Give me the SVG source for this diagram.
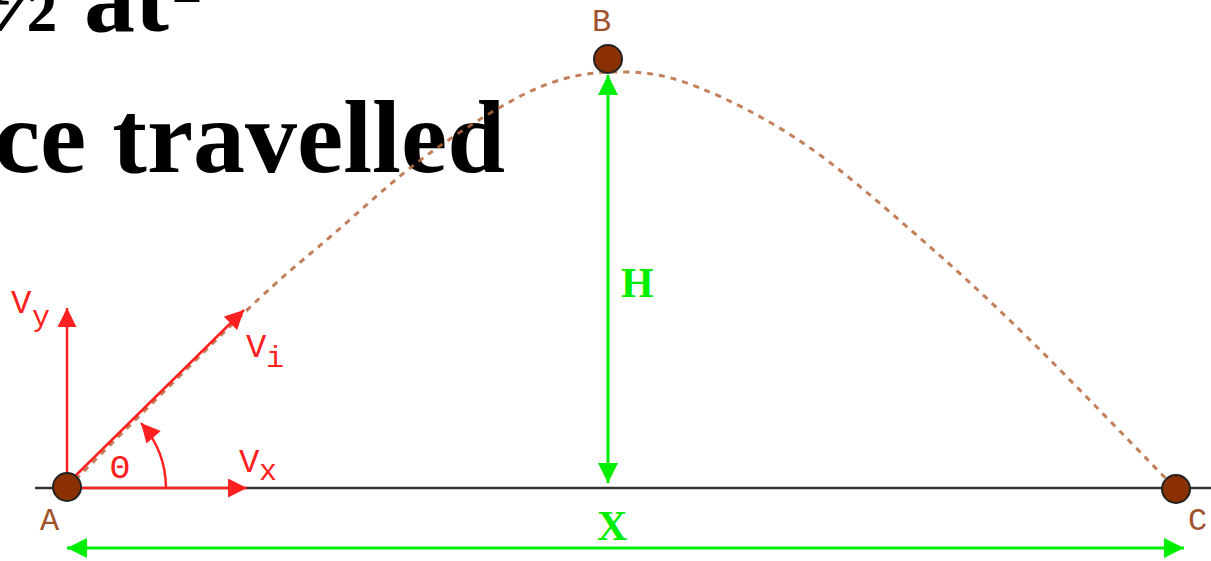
<svg xmlns="http://www.w3.org/2000/svg" width="1211" height="561" viewBox="0 0 1211 561">
<style>
.title{font-family:"Liberation Serif","Times New Roman",serif;font-weight:bold;fill:#000}
.pt{font-family:"Courier New","Liberation Mono",monospace;fill:#a0522d;font-size:32px}
.red{font-family:"Courier New","Liberation Mono",monospace;fill:#ff2020}
.grn{font-family:"Liberation Serif","Times New Roman",serif;fill:#00ee00;font-weight:bold}
.rline{stroke:#ff2020;stroke-width:2.5;fill:none}
.gline{stroke:#00ee00;stroke-width:3;fill:none}
.node{fill:#8b3000;stroke:#222;stroke-width:2}
</style>
<defs>
<marker id="ra" viewBox="0 0 20 20" refX="20" refY="10" markerWidth="20" markerHeight="19" markerUnits="userSpaceOnUse" orient="auto-start-reverse"><path d="M0,0 L20,10 L0,20 z" fill="#ff2020"/></marker>
<marker id="ga" viewBox="0 0 20 20" refX="20" refY="10" markerWidth="21" markerHeight="20" markerUnits="userSpaceOnUse" orient="auto-start-reverse"><path d="M0,0 L20,10 L0,20 z" fill="#00ee00"/></marker>
</defs>
<rect width="1211" height="561" fill="#fff"/>
<g id="title">
<text class="title" x="-18" y="31" font-size="102">½ at<tspan x="172" y="2" font-size="60">2</tspan></text>
<text class="title" x="505" y="172" font-size="104" text-anchor="end">ce travelled</text>
</g>
<g id="connectors">
<line id="ground" x1="35" y1="488" x2="1211" y2="488" stroke="#333" stroke-width="2.5"/>
<path id="trajectory" d="M67,488 C96.7,458.7 201.2,353.8 245,312 C288.8,270.2 299.2,263.5 330,237 C360.8,210.5 395,178 430,153 C465,128 507.5,100.5 540,87 C572.5,73.5 598.3,71.8 625,72 C651.7,72.2 670.3,76.2 700,88 C729.7,99.8 767.5,119 803,143 C838.5,167 875.7,199.7 913,232 C950.3,264.3 983.2,294.2 1027,337 C1070.8,379.8 1151.2,463.7 1176,489" fill="none" stroke="#b8683c" stroke-width="3" stroke-dasharray="6 6" opacity="0.85"/>
<line id="vy" class="rline" x1="67" y1="487" x2="67" y2="308" marker-end="url(#ra)"/>
<line id="vx" class="rline" x1="67" y1="488" x2="247" y2="488" marker-end="url(#ra)"/>
<line id="vi" class="rline" x1="65" y1="486" x2="244" y2="310" marker-end="url(#ra)"/>
<path id="theta-arc" class="rline" d="M166,488 A99,99 0 0 0 141,423" marker-end="url(#ra)"/>
<line id="h" class="gline" x1="608" y1="75" x2="608" y2="483" marker-start="url(#ga)" marker-end="url(#ga)"/>
<line id="x" class="gline" x1="67" y1="548" x2="1184" y2="548" marker-start="url(#ga)" marker-end="url(#ga)"/>
</g>
<g id="A"><circle class="node" cx="67" cy="487" r="14"/><text class="pt" x="40" y="530">A</text></g>
<g id="B"><circle class="node" cx="608" cy="59" r="14"/><text class="pt" x="592" y="31">B</text></g>
<g id="C"><circle class="node" cx="1176" cy="489" r="14"/><text class="pt" x="1188" y="530">C</text></g>
<g id="labels">
<text class="red" x="11" y="313" font-size="34">V<tspan x="32" y="326" font-size="30">y</tspan></text>
<text class="red" x="246" y="357" font-size="34">V<tspan x="266" y="367" font-size="30">i</tspan></text>
<text class="red" x="239" y="472" font-size="34">V<tspan x="259" y="480" font-size="30">x</tspan></text>
<text class="red" x="120" y="478" font-size="34" text-anchor="middle">Θ</text>
<text class="grn" x="621" y="297" font-size="42">H</text>
<text class="grn" x="597" y="540" font-size="42">X</text>
</g>
</svg>
